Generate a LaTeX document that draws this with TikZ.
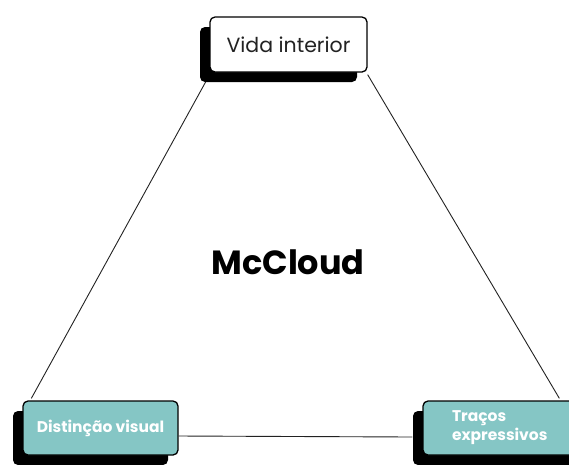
\documentclass[tikz,border=0pt]{standalone}
\usepackage{fontspec}
\setmainfont{Poppins}
\usetikzlibrary{calc,shadows}
\pgfdeclarelayer{background}
\pgfsetlayers{background,main}
\definecolor{boxteal}{HTML}{85C6C5}
\definecolor{inkdark}{HTML}{222222}
\tikzset{
  card/.style={draw=black, line width=1.3pt, rounded corners=5pt, inner sep=0pt,
    drop shadow={shadow xshift=-10pt, shadow yshift=-10pt, fill=black, opacity=1}},
  whitecard/.style={card, fill=white, text=inkdark},
  tealcard/.style={card, fill=boxteal, text=white, font=\fontsize{15.5}{19}\selectfont\bfseries},
  link/.style={draw=inkdark, line width=0.9pt}
}
\begin{document}
\begin{tikzpicture}[x=1pt,y=-1pt]
\useasboundingbox (0,0) rectangle (569,464);

% the three cards
\node[whitecard, minimum width=157pt, minimum height=55pt,
      font=\fontsize{20.5}{24}\selectfont] (vida) at (288.5,44.5) {Vida interior};
\node[tealcard, minimum width=155pt, minimum height=54pt] (dist) at (100.5,428) {Distinção visual};
\node[tealcard, minimum height=54pt, text width=109pt, align=left, inner xsep=29pt]
      (tracos) at (506.5,428) {Traços\\[0pt]expressivos};

% connector end points on the cards
\coordinate (vl) at ($(vida.south west)+(-3,8)$);
\coordinate (vr) at ($(vida.south east)+(0,2)$);
\coordinate (dtop) at ($(dist.north west)+(9,-2)$);
\coordinate (dright) at ($(dist.east)+(0,8)$);
\coordinate (ttop) at ($(tracos.north west)+(137,-2)$);
\coordinate (tleft) at ($(tracos.west)+(-10,9)$);

\begin{pgfonlayer}{background}
\draw[link] (vl) -- (dtop);
\draw[link] (vr) -- (ttop);
\draw[link] (dright) -- (tleft);
\end{pgfonlayer}

\node[font=\fontsize{33.5}{38}\selectfont\bfseries, text=black] (title) at (288,262) {McCloud};
\end{tikzpicture}
\end{document}
